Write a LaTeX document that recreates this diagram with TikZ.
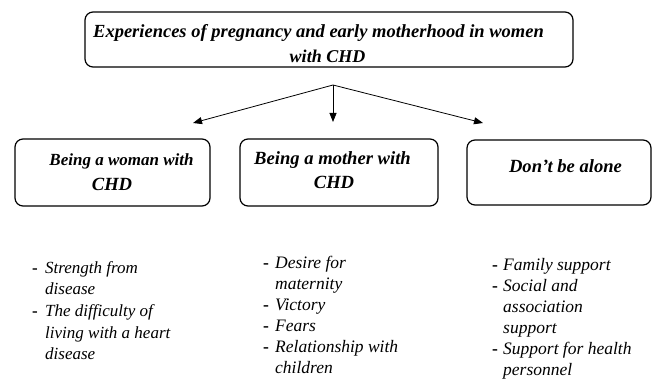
\documentclass[tikz,border=0pt]{standalone}
\usepackage{fontspec}
\setmainfont{Liberation Serif}
\usetikzlibrary{arrows.meta}
\newcommand\shiftline[2]{\hspace*{#1}\makebox[0pt]{#2}\hspace*{-#1}}
\newcommand\itemdash{{\upshape\bfseries -}}
\begin{document}
\begin{tikzpicture}[x=1pt,y=-1pt,
  box/.style={draw, line width=1.2pt, rounded corners=8pt, inner xsep=0pt, inner ysep=0pt,
    font=\fontsize{18.6}{24.5}\selectfont\bfseries\itshape},
  arr/.style={line width=0.8pt, -{Triangle[length=9pt,width=7pt]}},
  lst/.style={inner sep=0pt, anchor=base west, font=\itshape\fontsize{17}{21.7}\selectfont}
]
\useasboundingbox (0,0) rectangle (652,382);
\node[box, minimum width=488pt, text height=51pt, text depth=4pt] (top) at (329,39.5)
  {\begin{tabular}[b]{@{}c@{}}\shiftline{-10.5pt}{\fontsize{18.5}{25}\selectfont Experiences of pregnancy and early motherhood in women}\\[0.5pt] \shiftline{-1.5pt}{\fontsize{18}{25}\selectfont with CHD}\end{tabular}};
\node[box, minimum width=195pt, text height=51pt, text depth=16pt] (b1) at (112.5,172.5)
  {\begin{tabular}[b]{@{}c@{}}\shiftline{9pt}{\fontsize{17}{25}\selectfont Being a woman with}\\ \shiftline{-0.5pt}{CHD}\end{tabular}};
\node[box, minimum width=198pt, text height=49pt, text depth=18pt] (b2) at (339,172.5)
  {\begin{tabular}[b]{@{}c@{}}\shiftline{-6.5pt}{Being a mother with}\\[-1pt] \shiftline{-5pt}{CHD}\end{tabular}};
\node[box, minimum width=184pt, text height=32pt, text depth=33pt] (b3) at (559,172.5)
  {\shiftline{6.5pt}{Don't be alone}};
\coordinate (src) at (333,85);
\coordinate (t1) at (193,123);
\coordinate (t2) at (333,122);
\coordinate (t3) at (483,123);
\draw[arr] (src) -- (t1);
\draw[arr] (src) -- (t2);
\draw[arr] (src) -- (t3);
\node[lst] (l1) at (32,273)
  {\begin{tabular}[t]{@{}p{13pt}@{}l@{}}
  \itemdash & Strength from\\
   & disease\\
  \itemdash & The difficulty of\\
   & living with a heart\\
   & disease
  \end{tabular}};
\node[lst, font=\itshape\fontsize{17.5}{21}\selectfont] (l2) at (263,268)
  {\begin{tabular}[t]{@{}p{12pt}@{}l@{}}
  \itemdash & Desire for\\
   & maternity\\
  \itemdash & Victory\\
  \itemdash & Fears\\
  \itemdash & Relationship with\\
   & children
  \end{tabular}};
\node[lst, font=\itshape\fontsize{17.5}{21}\selectfont] (l3) at (492,270)
  {\begin{tabular}[t]{@{}p{11pt}@{}l@{}}
  \itemdash & Family support\\
  \itemdash & Social and\\
   & association\\
   & support\\
  \itemdash & Support for health\\
   & personnel
  \end{tabular}};
\end{tikzpicture}
\end{document}
